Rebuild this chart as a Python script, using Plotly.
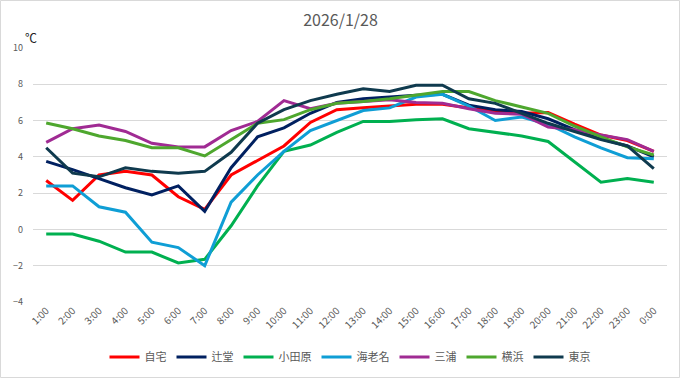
import plotly.graph_objects as go

hours = ["1:00","2:00","3:00","4:00","5:00","6:00","7:00","8:00","9:00","10:00","11:00","12:00",
         "13:00","14:00","15:00","16:00","17:00","18:00","19:00","20:00","21:00","22:00","23:00","0:00"]

jitaku   = [2.7,1.6,3.0,3.2,3.0,1.8,1.1,3.0,3.8,4.6,5.9,6.6,6.7,6.8,6.9,6.9,6.7,6.5,6.4,6.45,5.8,5.2,4.9,4.3]
tsujido  = [3.75,3.3,2.8,2.3,1.9,2.4,1.0,3.4,5.1,5.6,6.4,7.0,7.2,7.3,7.4,7.45,6.85,6.6,6.5,6.1,5.5,5.0,4.6,4.0]
odawara  = [-0.25,-0.25,-0.65,-1.25,-1.25,-1.85,-1.65,0.2,2.4,4.3,4.65,5.35,5.95,5.95,6.05,6.1,5.55,5.35,5.15,4.85,3.7,2.6,2.8,2.6]
ebina    = [2.4,2.4,1.25,0.95,-0.7,-1.0,-2.0,1.5,3.0,4.3,5.45,6.0,6.55,6.7,7.3,7.45,6.8,6.0,6.2,5.8,5.1,4.5,3.95,3.9]
miura    = [4.8,5.55,5.75,5.4,4.75,4.55,4.55,5.45,5.95,7.1,6.65,6.95,7.05,7.15,7.0,6.95,6.65,6.4,6.35,5.65,5.5,5.2,4.95,4.3]
yokohama = [5.87,5.55,5.15,4.9,4.5,4.5,4.05,4.95,5.85,6.05,6.6,6.95,7.05,7.2,7.4,7.6,7.6,7.1,6.75,6.4,5.7,5.1,4.55,4.1]
tokyo    = [4.5,3.1,2.9,3.4,3.2,3.1,3.2,4.25,5.85,6.6,7.1,7.45,7.75,7.6,7.95,7.95,7.2,6.95,6.4,5.85,5.4,4.95,4.6,3.35]

names  = ["自宅","辻堂","小田原","海老名","三浦","横浜","東京"]
series = [jitaku, tsujido, odawara, ebina, miura, yokohama, tokyo]
colors = ["#FF0000","#002060","#00B050","#0F9ED5","#A02B93","#4EA72E","#0F3A4E"]

FONT = "Noto Sans CJK JP, Noto Sans, sans-serif"
W, H = 681, 379
ML, MR, MT, MB = 33, 14, 48, 77
PW, PH = W - ML - MR, H - MT - MB

fig = go.Figure()
for n, s, c in zip(names, series, colors):
    fig.add_trace(go.Scatter(x=hours, y=s, name=n, mode="lines",
                             line=dict(color=c, width=3)))

fig.update_layout(
    width=W, height=H,
    margin=dict(l=ML, r=MR, t=MT, b=MB, pad=0, autoexpand=False),
    paper_bgcolor="white", plot_bgcolor="white",
    font=dict(family=FONT, color="#595959", size=10),
    title=dict(text="2026/1/28", x=0.5, xanchor="center", y=1 - 20/H, yanchor="middle",
               yref="container", font=dict(size=16, color="#595959", family=FONT)),
    showlegend=True,
    legend=dict(orientation="h", x=0.5, xanchor="center", y=-(357 - MT - PH) / PH, yanchor="middle",
                font=dict(size=11, color="#595959", family=FONT), itemwidth=30,
                tracegroupgap=0, traceorder="normal"),
    xaxis=dict(type="category", range=[-0.5, 23.5], tickangle=-45, showgrid=False, automargin=False,
               showline=False, ticks="", tickfont=dict(size=10, color="#595959"), zeroline=False),
    yaxis=dict(range=[-4, 10], dtick=2, showgrid=True, gridcolor="#D9D9D9", gridwidth=1,
               automargin=False, ticklabelstandoff=9,
               zeroline=False, showline=False, ticks="", tickfont=dict(size=9, color="#595959")),
)

fig.add_annotation(text="℃", xref="paper", yref="paper",
                   x=(31 - ML) / PW, y=1 + (MT - 37) / PH, showarrow=False,
                   font=dict(size=12, color="#222222", family=FONT), xanchor="center", yanchor="middle")

fig.add_shape(type="rect", xref="paper", yref="paper",
              x0=-(ML - 0.5) / PW, x1=1 + (MR - 1.5) / PW,
              y0=-(MB - 1.5) / PH, y1=1 + (MT - 0.5) / PH,
              line=dict(color="#D9D9D9", width=1), fillcolor="rgba(0,0,0,0)", layer="below")

fig.write_html("out.html", config={"displayModeBar": False},
               post_script="document.body.style.margin='0';document.body.style.overflow='hidden';")
